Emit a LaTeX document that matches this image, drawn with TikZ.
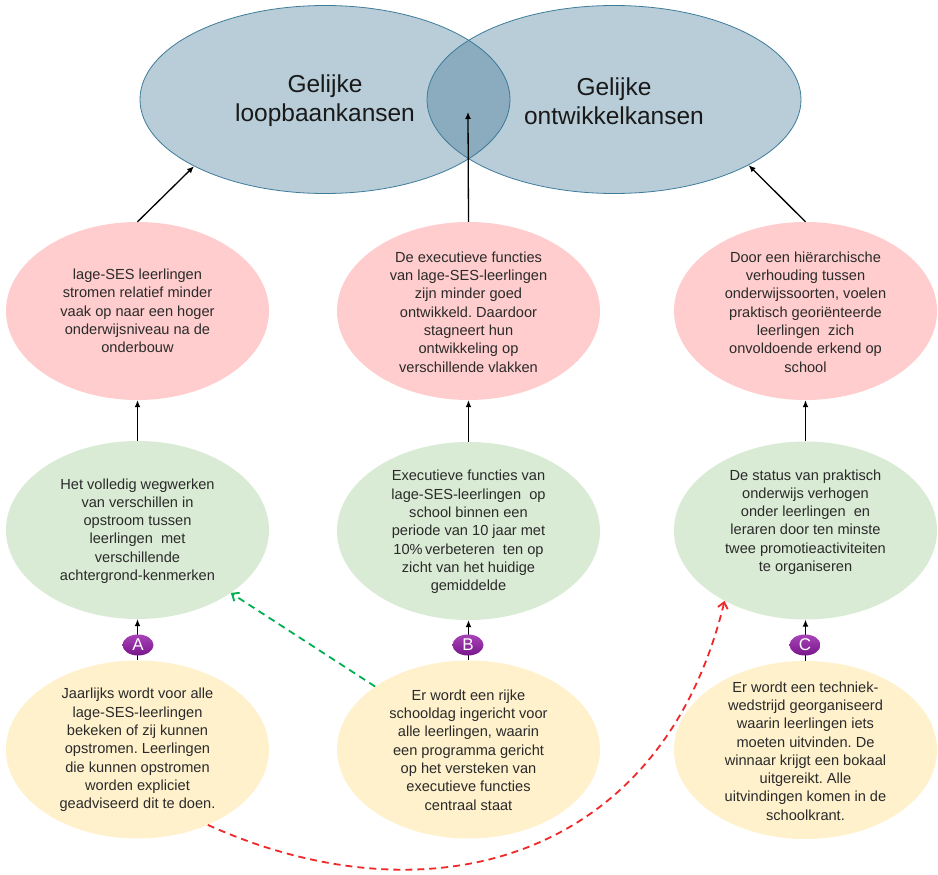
\documentclass[tikz,border=0pt]{standalone}
\usepackage{fontspec}
\setmainfont{Liberation Sans}
\usetikzlibrary{shapes.geometric,arrows.meta}
\frenchspacing
\definecolor{topfill}{HTML}{357190}
\definecolor{topline}{HTML}{3F7C9B}
\definecolor{pinkfill}{HTML}{FFCDCD}
\definecolor{greenfill}{HTML}{DAEBD5}
\definecolor{yellowfill}{HTML}{FFF1CC}
\definecolor{txtcol}{HTML}{2A2A2A}
\definecolor{purpletop}{HTML}{A843B8}
\definecolor{purplebot}{HTML}{7A168C}
\definecolor{dashgreen}{HTML}{00B050}
\definecolor{dashred}{HTML}{F02828}
\tikzset{
  topell/.style={ellipse, draw=topline, line width=0.8pt, fill=topfill, fill opacity=0.35, draw opacity=1,
    minimum width=370pt, minimum height=188pt, inner sep=0pt},
  smallell/.style={ellipse, draw=none, minimum width=263pt, minimum height=178pt, inner sep=0pt},
  pinkell/.style={smallell, fill=pinkfill},
  greenell/.style={smallell, fill=greenfill},
  yellowell/.style={smallell, fill=yellowfill},
  titletxt/.style={align=center, text=black!90, font=\fontsize{24.5}{29}\selectfont, inner sep=0pt},
  boxtxt/.style={align=center, text=txtcol, font=\fontsize{14.6}{18.3}\selectfont, inner sep=0pt},
  tag/.style={ellipse, minimum width=31pt, minimum height=21pt, inner sep=0pt,
    top color=purpletop, bottom color=purplebot, text=white, font=\fontsize{17}{17}\selectfont},
  arr/.style={-{Latex[length=7pt,width=6pt]}, line width=1.3pt, black},
  greendash/.style={-{Straight Barb[length=6pt,width=10pt]}, line width=1.8pt, dashgreen, dash pattern=on 7pt off 5pt},
  reddash/.style={-{Straight Barb[length=6pt,width=10pt]}, line width=1.8pt, dashred, dash pattern=on 7pt off 5pt},
}
\begin{document}
\begin{tikzpicture}[x=1pt,y=1pt]
\useasboundingbox (0,0) rectangle (938,-875);
\fill[white] (0,0) rectangle (938,-875);

% top ellipses
\node[topell] (t1) at (325,-99.5) {};
\node[topell, minimum width=374pt] (t2) at (614,-99.5) {};
\node[titletxt] (t1txt) at (325,-101) {Gelijke\\loopbaankansen};
\node[titletxt] (t2txt) at (614,-101) {Gelijke\\ontwikkelkansen};
\coordinate (lens) at (468,-112);

% pink row
\node[pinkell] (p1) at (137.5,-311) {};
\node[pinkell] (p2) at (468.5,-311) {};
\node[pinkell] (p3) at (805.5,-311) {};
\node[boxtxt] (p1txt) at (137.5,-311) {lage-SES leerlingen\\stromen relatief minder\\vaak op naar een hoger\\onderwijsniveau na de\\onderbouw};
\node[boxtxt] (p2txt) at (468.5,-312) {De executieve functies\\van lage-SES-leerlingen\\zijn minder goed\\ontwikkeld. Daardoor\\stagneert hun\\ontwikkeling op\\verschillende vlakken};
\node[boxtxt] (p3txt) at (805.5,-312) {Door een hiërarchische\\verhouding tussen\\onderwijssoorten, voelen\\praktisch georiënteerde\\leerlingen\ \ zich\\onvoldoende erkend op\\school};

% green row
\node[greenell] (g1) at (137.5,-530) {};
\node[greenell] (g2) at (468.5,-531) {};
\node[greenell] (g3) at (805.5,-530.5) {};
\node[boxtxt] (g1txt) at (137.5,-531) {Het volledig wegwerken\\van verschillen in\\opstroom tussen\\leerlingen\ \ met\\verschillende\\achtergrond-kenmerken};
\node[boxtxt] (g2txt) at (468.5,-532) {Executieve functies van\\lage-SES-leerlingen\ \ op\\school binnen een\\periode van 10 jaar met\\10\%\,verbeteren\ \ ten op\\zicht van het huidige\\gemiddelde};
\node[boxtxt] (g3txt) at (805.5,-522) {De status van praktisch\\onderwijs verhogen\\onder leerlingen\ \ en\\leraren door ten minste\\twee promotieactiviteiten\\te organiseren};

% yellow row
\node[yellowell] (y1) at (137.5,-749.5) {};
\node[yellowell] (y2) at (468.5,-749.5) {};
\node[yellowell] (y3) at (805.5,-750) {};
\node[boxtxt] (y1txt) at (137.5,-750) {Jaarlijks wordt voor alle\\lage-SES-leerlingen\\bekeken of zij kunnen\\opstromen. Leerlingen\\die kunnen opstromen\\worden expliciet\\geadviseerd dit te doen.};
\node[boxtxt] (y2txt) at (468.5,-750) {Er wordt een rijke\\schooldag ingericht voor\\alle leerlingen, waarin\\een programma gericht\\op het versteken van\\executieve functies\\centraal staat};
\node[boxtxt] (y3txt) at (805.5,-751) {Er wordt een techniek-\\wedstrijd georganiseerd\\waarin leerlingen iets\\moeten uitvinden. De\\winnaar krijgt een bokaal\\uitgereikt. Alle\\uitvindingen komen in de\\schoolkrant.};

% arrows pink -> top
\draw[arr] (p1.north) -- (t1.-153);
\draw[arr] (p2.north) -- (lens);
\draw[arr] (p3.north) -- (t2.-26);

% arrows green -> pink
\draw[arr] (g1) -- (p1);
\draw[arr] (g2) -- (p2);
\draw[arr] (g3) -- (p3);

% arrows yellow -> green with tags
\draw[arr] (y1) -- (g1);
\draw[arr] (y2) -- (g2);
\draw[arr] (y3) -- (g3);
\node[tag] (tagA) at (138,-645) {A};
\node[tag] (tagB) at (468,-645) {B};
\node[tag] (tagC) at (805,-645) {C};

% dashed arrows
\draw[greendash] (y2.146) -- (g1.-34);
\draw[reddash] (y1.-47) .. controls (430,-925) and (662,-860) .. (g3.-139);
\end{tikzpicture}
\end{document}
